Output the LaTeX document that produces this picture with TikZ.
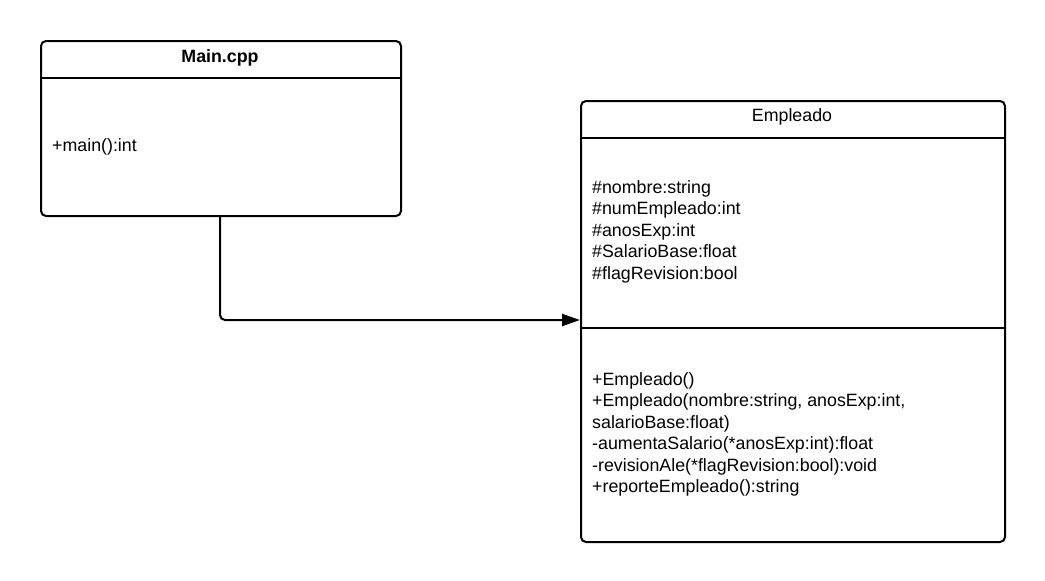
\documentclass[tikz,border=0pt]{standalone}
\usepackage{fontspec}
\setmainfont{Liberation Sans}
\usetikzlibrary{arrows.meta}
\begin{document}
\begin{tikzpicture}[x=1pt,y=-1pt,
  classbox/.style={draw=black,line width=2pt,rounded corners=5pt},
  sepline/.style={draw=black,line width=2pt},
  txt/.style={anchor=base west,inner sep=0pt,font=\fontsize{17.8}{21}\selectfont},
  title/.style={anchor=base,inner sep=0pt,font=\fontsize{17.8}{21}\selectfont},
  conn/.style={draw=black,line width=2pt,rounded corners=5pt,-{Triangle[length=18pt,width=12pt]}}]
\useasboundingbox (0,0) rectangle (1045,581);
% Main.cpp
\node[classbox,minimum width=360pt,minimum height=175pt,anchor=north west,inner sep=0pt] (main) at (40,40) {};
\draw[sepline] (40,77.7) -- (400,77.7);
\node[title,font=\fontsize{17.8}{21}\selectfont\bfseries] (maint) at (220,62.3) {Main.cpp};
\node[txt] (mainm) at (52,151.7) {+main():int};
% Empleado
\node[classbox,minimum width=424pt,minimum height=441pt,anchor=north west,inner sep=0pt] (emp) at (580,100) {};
\draw[sepline] (580,137.7) -- (1004,137.7);
\draw[sepline] (580,328.3) -- (1004,328.3);
\node[title] (empt) at (792,121.7) {Empleado};
\foreach \t [count=\i] in {\#nombre:string,\#numEmpleado:int,\#anosExp:int,\#SalarioBase:float,\#flagRevision:bool}
  \node[txt] (attr\i) at (592,{193.3+21.5*(\i-1)}) {\t};
\foreach \t [count=\i] in {+Empleado(),{+Empleado(nombre:string, anosExp:int,},salarioBase:float),-aumentaSalario(*anosExp:int):float,-revisionAle(*flagRevision:bool):void,+reporteEmpleado():string}
  \node[txt] (meth\i) at (592,{385+21.5*(\i-1)}) {\t};
% connector
\coordinate (tip) at (emp.west |- 0,320);
\draw[conn] (main.south -| 220,0) |- (tip);
\end{tikzpicture}
\end{document}
